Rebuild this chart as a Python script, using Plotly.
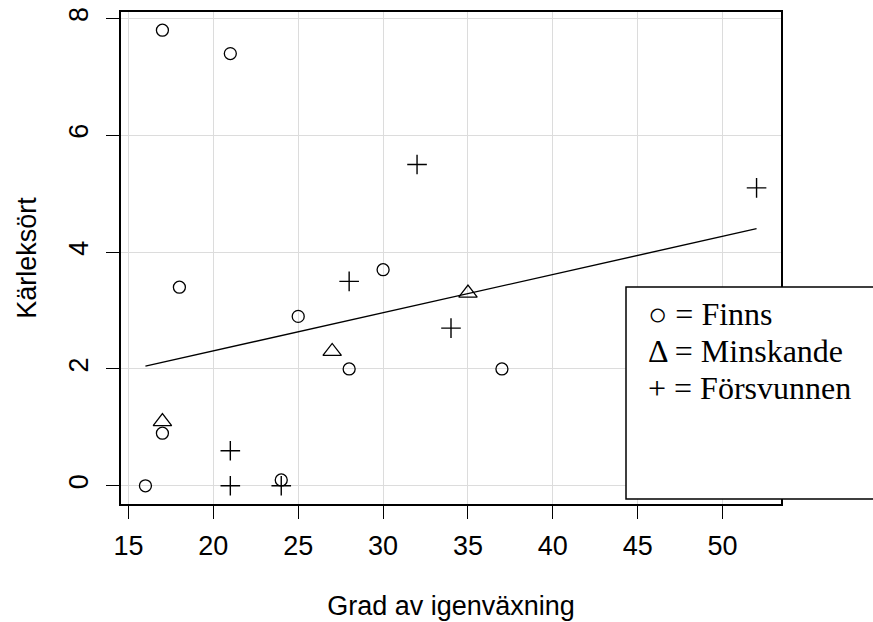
import numpy as np
import plotly.graph_objects as go

# Data
finns_x = [17, 21, 18, 25, 30, 28, 37, 17, 16, 24]
finns_y = [7.8, 7.4, 3.4, 2.9, 3.7, 2.0, 2.0, 0.9, 0.0, 0.1]
minsk_x = [17, 27, 35]
minsk_y = [1.1, 2.3, 3.3]
forsv_x = [21, 21, 24, 28, 32, 34, 52]
forsv_y = [0.6, 0.0, 0.0, 3.5, 5.5, 2.7, 5.1]

x_ticks = [15, 20, 25, 30, 35, 40, 45, 50]
y_ticks = [0, 2, 4, 6, 8]
legend_lines = ["\u25CB = Finns", "\u0394 = Minskande", "+ = F\u00f6rsvunnen"]

all_x = np.array(finns_x + minsk_x + forsv_x, dtype=float)
all_y = np.array(finns_y + minsk_y + forsv_y, dtype=float)
slope, intercept = np.polyfit(all_x, all_y, 1)
fit_x = np.array([all_x.min(), all_x.max()])
fit_y = intercept + slope * fit_x

# R-style 4% axis extension
xr = all_x.max() - all_x.min()
yr = all_y.max() - all_y.min()
x_range = [all_x.min() - 0.04 * xr, all_x.max() + 0.04 * xr]
y_range = [all_y.min() - 0.04 * yr, all_y.max() + 0.04 * yr]

fig = go.Figure()
fig.add_trace(go.Scatter(x=fit_x, y=fit_y, mode="lines",
                         line=dict(color="black", width=1.4), showlegend=False))
fig.add_trace(go.Scatter(x=finns_x, y=finns_y, mode="markers", showlegend=False,
                         marker=dict(symbol="circle-open", size=12,
                                     color="black", line=dict(width=1.3, color="black"))))
fig.add_trace(go.Scatter(x=minsk_x, y=minsk_y, mode="markers", showlegend=False,
                         marker=dict(symbol="triangle-up-open", size=16,
                                     color="black", line=dict(width=1.3, color="black"))))
fig.add_trace(go.Scatter(x=forsv_x, y=forsv_y, mode="markers", showlegend=False,
                         marker=dict(symbol="cross-thin-open", size=14,
                                     color="black", line=dict(width=1.4, color="black"))))

W, H = 873, 622
ml, mr, mt, mb = 121, 92, 12, 118
pw = W - ml - mr
ph = H - mt - mb

def px_to_paper_x(px):
    return (px - ml) / pw

def px_to_paper_y(py):
    return (H - mb - py) / ph

axis_font = dict(family="Liberation Sans, Arial, sans-serif", size=27, color="black")

fig.update_layout(
    width=W, height=H,
    margin=dict(l=ml, r=mr, t=mt, b=mb, pad=0, autoexpand=False),
    paper_bgcolor="white", plot_bgcolor="white",
    font=axis_font,
    xaxis=dict(range=x_range, tickvals=x_ticks, ticks="outside", ticklen=13,
               tickwidth=1.3, tickcolor="black", showgrid=True,
               gridcolor="#dcdcdc", gridwidth=1.2, zeroline=False,
               showline=True, linecolor="black", linewidth=2, mirror=True,
               tickfont=axis_font, ticklabelstandoff=4, automargin=False,
               title=dict(text="Grad av igenv\u00e4xning", font=axis_font, standoff=36)),
    yaxis=dict(range=y_range, tickvals=y_ticks, ticks="outside", ticklen=13,
               tickwidth=1.3, tickcolor="black", showgrid=True,
               gridcolor="#dcdcdc", gridwidth=1.2, zeroline=False,
               showline=True, linecolor="black", linewidth=2, mirror=True,
               tickangle=-90, tickfont=axis_font, ticklabelstandoff=7, automargin=False,
               title=dict(text="K\u00e4rleks\u00f6rt", font=axis_font, standoff=20)),
)

# Legend box
fig.add_shape(type="rect", xref="paper", yref="paper",
              x0=px_to_paper_x(626), x1=px_to_paper_x(885),
              y0=px_to_paper_y(499), y1=px_to_paper_y(287),
              line=dict(color="black", width=1.5), fillcolor="white", layer="above")

legend_centers = [314, 351, 388]
for txt, cy in zip(legend_lines, legend_centers):
    fig.add_annotation(x=px_to_paper_x(646), y=px_to_paper_y(cy), xref="paper", yref="paper",
                       text=txt, showarrow=False, xanchor="left", yanchor="middle",
                       font=dict(family="Liberation Serif, Times New Roman, serif",
                                 size=32, color="black"))

fig.write_html("out.html")
